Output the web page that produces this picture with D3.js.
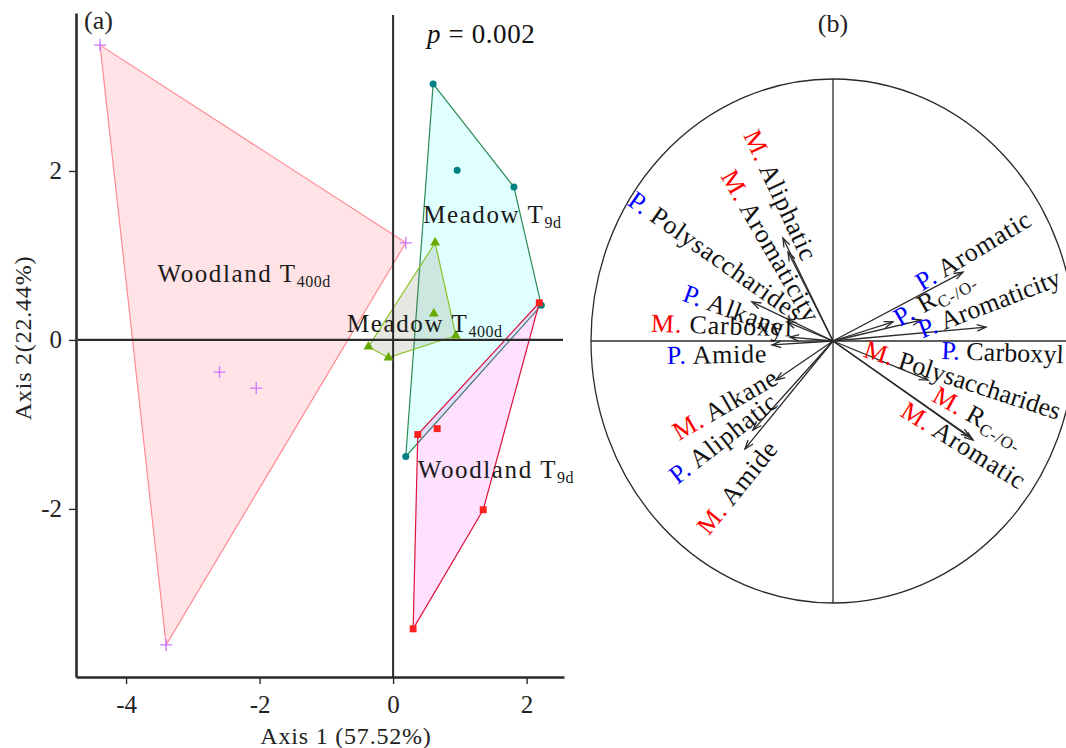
<!DOCTYPE html>
<html><head><meta charset="utf-8">
<script src="https://cdn.jsdelivr.net/npm/d3@7"></script>
<style>
body{margin:0;background:#fff}
svg{display:block}
text{font-family:"Liberation Serif","Times New Roman",serif}
</style>
</head><body>
<svg id="chart" width="1066" height="748"></svg>
<script>
// ---------- Panel (a) data: PCA scores ----------
const groupNames = ["Woodland T400d", "Meadow T9d", "Meadow T400d", "Woodland T9d"];
const groupMain = ["Woodland T", "Meadow T", "Meadow T", "Woodland T"];
const groupSub = ["400d", "9d", "400d", "9d"];
const woodland400X = [-4.39, 0.19, -2.60, -2.05, -3.40];
const woodland400Y = [3.49, 1.15, -0.38, -0.57, -3.61];
const meadow9X = [0.60, 0.96, 1.81, 2.22, 0.19];
const meadow9Y = [3.03, 2.01, 1.81, 0.41, -1.38];
const meadow400X = [0.63, 0.61, 0.94, -0.37, -0.07];
const meadow400Y = [1.15, 0.31, 0.05, -0.08, -0.21];
const woodland9X = [2.19, 0.37, 0.66, 1.35, 0.30];
const woodland9Y = [0.44, -1.12, -1.05, -2.01, -3.42];
const groupLabelX = [-3.53, 0.45, -0.69, 0.37];
const groupLabelY = [0.69, 1.38, 0.09, -1.63];
const xTicksA = [-4, -2, 0, 2];
const yTicksA = [-2, 0, 2];
const xDomainA = [-4.75, 2.56];
const yDomainA = [-3.99, 3.87];
const pText = "0.002";

// ---------- Panel (b) data: loadings ----------
const loadPrefix = ["M.", "M.", "P.", "P.", "M.", "P.", "M.", "P.", "M.", "P.", "P.", "P.", "P.", "M.", "M.", "M."];
const loadName = ["Aliphatic", "Aromaticity", "Polysaccharides", "Alkane", "Carboxyl", "Amide", "Alkane", "Aliphatic", "Amide",
                  "Aromatic", "R", "Aromaticity", "Carboxyl", "Polysaccharides", "R", "Aromatic"];
const loadSub = ["", "", "", "", "", "", "", "", "", "", "C-/O-", "", "", "", "C-/O-", ""];
const loadX = [-0.207, -0.186, -0.335, -0.190, -0.178, -0.252, -0.236, -0.331, -0.364, 0.537, 0.248, 0.364, 0.632, 0.393, 0.566, 0.579];
const loadY = [0.393, 0.340, 0.149, 0.073, 0.015, -0.015, -0.149, -0.340, -0.412, 0.263, 0.073, 0.080, 0.053, -0.149, -0.366, -0.378];
const labelX = [-0.215, -0.256, -0.483, -0.409, -0.459, -0.479, -0.446, -0.455, -0.397, 0.579, 0.417, 0.670, 0.722, 0.540, 0.603, 0.541];
const labelY = [0.557, 0.363, 0.324, 0.118, 0.061, -0.050, -0.240, -0.370, -0.557, 0.347, 0.168, 0.145, -0.042, -0.147, -0.290, -0.397];
const labelAngle = [65, 60, 35, 20, 2, -1, -30, -38, -51, -31, -30, -21, 2, 18, 29, 32];

const svg = d3.select("#chart");
const ink = "#2a2a2a";
const W = 1066;

// ================= Panel (a) =================
const xA = d3.scaleLinear().domain(xDomainA).range([76, 564]);
const yA = d3.scaleLinear().domain(yDomainA).range([677, 13]);

const groups = [
  {x: woodland400X, y: woodland400Y, fill: "rgba(255,40,60,0.13)", stroke: "#ff8c94", pt: "#cc77ff", shape: "plus"},
  {x: meadow9X, y: meadow9Y, fill: "rgba(0,255,255,0.12)", stroke: "#2e8b57", pt: "#008080", shape: "circle"},
  {x: meadow400X, y: meadow400Y, fill: "rgba(100,115,70,0.17)", stroke: "#8cc22a", pt: "#66aa00", shape: "triangle"},
  {x: woodland9X, y: woodland9Y, fill: "rgba(255,0,255,0.12)", stroke: "#dc143c", pt: "#ff2020", shape: "square"}
];

const gA = svg.append("g");
groups.forEach(g => {
  const pts = g.x.map((v, i) => [xA(v), yA(g.y[i])]);
  const hull = d3.polygonHull(pts);
  gA.append("path")
    .attr("d", "M" + hull.join("L") + "Z")
    .attr("fill", g.fill)
    .attr("stroke", g.stroke)
    .attr("stroke-width", 1.2);
});

// zero lines
gA.append("line").attr("x1", xA(0)).attr("x2", xA(0)).attr("y1", 15).attr("y2", yA(yDomainA[0]))
  .attr("stroke", ink).attr("stroke-width", 2);
gA.append("line").attr("x1", 78).attr("x2", 563).attr("y1", yA(0)).attr("y2", yA(0))
  .attr("stroke", ink).attr("stroke-width", 2.2);

// points
groups.forEach(g => {
  const pts = g.x.map((v, i) => [xA(v), yA(g.y[i])]);
  pts.forEach(p => {
    if (g.shape === "plus") {
      gA.append("path").attr("d", `M${p[0]-6},${p[1]}H${p[0]+6}M${p[0]},${p[1]-6}V${p[1]+6}`)
        .attr("stroke", g.pt).attr("stroke-width", 1.3).attr("fill", "none");
    } else if (g.shape === "circle") {
      gA.append("circle").attr("cx", p[0]).attr("cy", p[1]).attr("r", 3.5).attr("fill", g.pt);
    } else if (g.shape === "triangle") {
      gA.append("path").attr("d", d3.symbol(d3.symbolTriangle, 42)()).attr("transform", `translate(${p[0]},${p[1]})`).attr("fill", g.pt);
    } else {
      gA.append("path").attr("d", d3.symbol(d3.symbolSquare, 48)()).attr("transform", `translate(${p[0]},${p[1]})`).attr("fill", g.pt);
    }
  });
});

// group labels
groupNames.forEach((n, i) => {
  const t = gA.append("text").attr("x", xA(groupLabelX[i])).attr("y", yA(groupLabelY[i]))
    .attr("font-size", 25).attr("letter-spacing", 1.6).attr("fill", "#1a1a1a");
  t.append("tspan").text(groupMain[i]);
  t.append("tspan").attr("font-size", 16).attr("dy", 5).attr("letter-spacing", 0.5).text(groupSub[i]);
});

// axes
const axX = d3.axisBottom(xA).tickValues(xTicksA).tickSize(7).tickSizeOuter(0).tickPadding(11).tickFormat(d => String(d));
const axY = d3.axisLeft(yA).tickValues(yTicksA).tickSize(7).tickSizeOuter(0).tickPadding(7).tickFormat(d => String(d));
const gx = svg.append("g").attr("transform", `translate(0,${yA(yDomainA[0])})`).call(axX);
const gy = svg.append("g").attr("transform", `translate(${xA(xDomainA[0])},0)`).call(axY);
[gx, gy].forEach(g => {
  g.select(".domain").attr("stroke", ink).attr("stroke-width", 2.6);
  g.selectAll(".tick line").attr("stroke", ink).attr("stroke-width", 1.4);
  g.selectAll(".tick text").attr("font-size", 25).attr("fill", "#222")
    .attr("font-family", "'Liberation Serif','Times New Roman',serif");
});

svg.append("text").attr("x", 346).attr("y", 744).attr("text-anchor", "middle")
  .attr("font-size", 24).attr("letter-spacing", 0.8).attr("fill", "#222").text("Axis 1 (57.52%)");
svg.append("text").attr("transform", "translate(31,338) rotate(-90)").attr("text-anchor", "middle")
  .attr("font-size", 24).attr("letter-spacing", 0.8).attr("fill", "#222").text("Axis 2(22.44%)");
svg.append("text").attr("x", 84).attr("y", 29).attr("font-size", 26).attr("fill", "#222").text("(a)");
const pt = svg.append("text").attr("x", 427).attr("y", 43).attr("font-size", 27).attr("letter-spacing", 0.6).attr("fill", "#111");
pt.append("tspan").attr("font-style", "italic").text("p");
pt.append("tspan").text(" = " + pText);

// ================= Panel (b) =================
const xB = d3.scaleLinear().domain([-1, 1]).range([591, 1075]);
const yB = d3.scaleLinear().domain([-1, 1]).range([603, 79]);
const gB = svg.append("g");

const defs = svg.append("defs");
defs.append("marker").attr("id", "arr").attr("viewBox", "-10 -5 12 10")
  .attr("refX", 0).attr("refY", 0).attr("markerWidth", 12).attr("markerHeight", 10)
  .attr("markerUnits", "userSpaceOnUse").attr("orient", "auto")
  .append("path").attr("d", "M-9,-3.2L0,0L-9,3.2").attr("fill", "none").attr("stroke", ink).attr("stroke-width", 1.3);

gB.append("ellipse").attr("cx", xB(0)).attr("cy", yB(0))
  .attr("rx", xB(1) - xB(0)).attr("ry", yB(-1) - yB(0))
  .attr("fill", "none").attr("stroke", ink).attr("stroke-width", 1.3);
gB.append("line").attr("x1", xB(0)).attr("x2", xB(0)).attr("y1", yB(1)).attr("y2", yB(-1))
  .attr("stroke", ink).attr("stroke-width", 1.3);
gB.append("line").attr("x1", xB(-1)).attr("x2", xB(1)).attr("y1", yB(0)).attr("y2", yB(0))
  .attr("stroke", ink).attr("stroke-width", 1.3);

loadX.forEach((v, i) => {
  gB.append("line").attr("x1", xB(0)).attr("y1", yB(0)).attr("x2", xB(v)).attr("y2", yB(loadY[i]))
    .attr("stroke", ink).attr("stroke-width", 1.3).attr("marker-end", "url(#arr)");
});

loadName.forEach((n, i) => {
  let cx = xB(labelX[i]);
  const cy = yB(labelY[i]);
  const place = () => t.attr("transform", `translate(${cx},${cy}) rotate(${labelAngle[i]})`);
  const t = gB.append("text")
    .attr("text-anchor", "middle").attr("dy", "0.35em")
    .attr("font-size", 26).attr("letter-spacing", 0.8).attr("fill", "#111");
  place();
  t.append("tspan").attr("fill", loadPrefix[i] === "M." ? "#ff0000" : "#0000ff").text(loadPrefix[i] + " ");
  t.append("tspan").text(n);
  const sub = loadSub[i] ? t.append("tspan").attr("font-size", 17).attr("dy", 5).text(loadSub[i]) : null;
  // keep labels inside the picture: tighten, nudge left, then shrink a little if still needed
  const over = () => t.node().getBoundingClientRect().right - (W - 1);
  if (over() > 0) t.attr("letter-spacing", 0.1);
  let guard = 0;
  while (over() > 0 && guard < 12) { cx -= 1; place(); guard++; }
  let fs = 26; guard = 0;
  while (over() > 0 && guard < 16) {
    fs -= 0.5; guard++;
    t.attr("font-size", fs);
    if (sub) sub.attr("font-size", fs * 17 / 26);
  }
});

svg.append("text").attr("x", xB(0)).attr("y", 32).attr("text-anchor", "middle")
  .attr("font-size", 26).attr("fill", "#222").text("(b)");
</script>
</body></html>
